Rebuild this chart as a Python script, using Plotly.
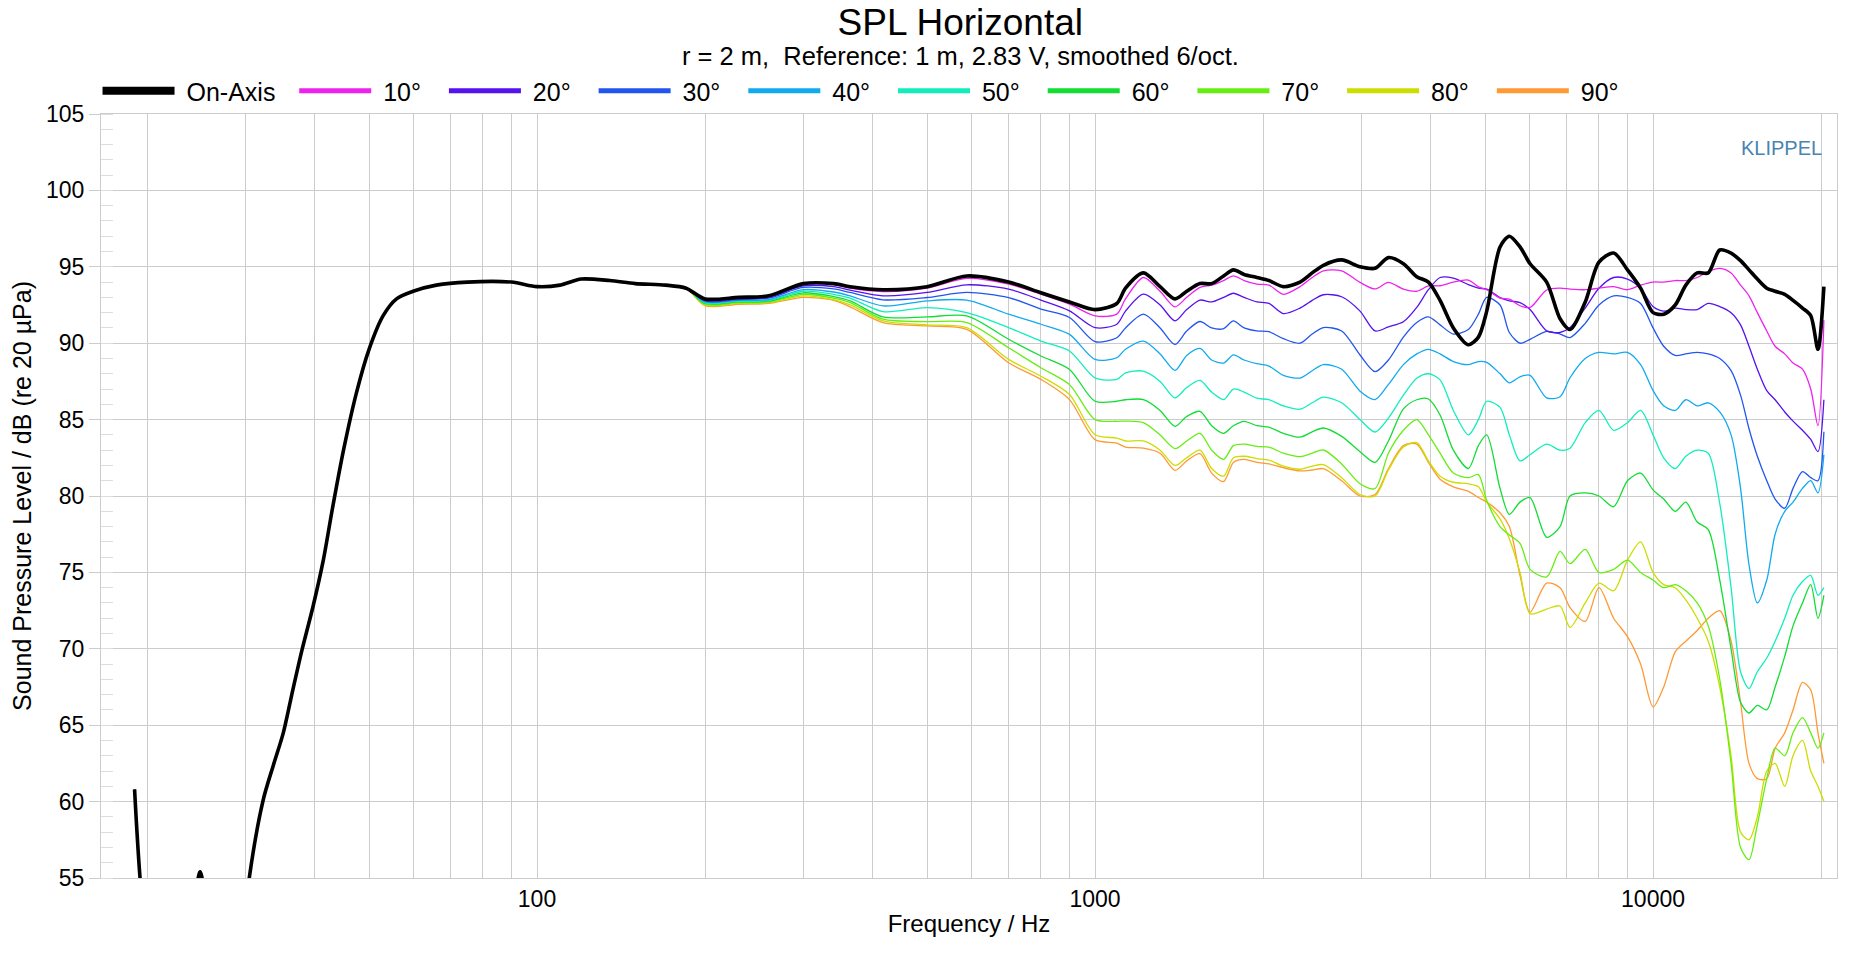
import plotly.graph_objects as go

# ---------------- data ----------------
SERIES = ["On-Axis", "10°", "20°", "30°", "40°", "50°", "60°", "70°", "80°", "90°"]
COLORS = ["#000000", "#ee22ee", "#5511ee", "#2255ee", "#11aaee", "#11eebb",
          "#11dd33", "#66ee11", "#ccdd00", "#ff9933"]

# below ~190 Hz all angles coincide
F_LOW = [19.0, 19.6, 20.5, 23.0, 24.4, 24.9, 25.4, 27.0, 29.5, 30.5, 32.3, 33.7,
         35.1, 36.5, 37.9, 39.7, 41.4, 43.0, 45.0, 47.5, 50.0, 53.0, 56.0, 60.0,
         66.0, 75.0, 90.0, 100.0, 110.0, 120.0, 135.0, 150.0, 170.0, 185.0]
SPL_LOW = [60.8, 53.5, 49.0, 50.0, 54.0, 55.4, 54.0, 49.0, 50.0, 55.0, 60.1, 62.4,
           64.5, 67.3, 69.9, 72.8, 75.8, 79.2, 83.0, 86.8, 89.6, 91.8, 92.9, 93.4,
           93.8, 94.0, 94.0, 93.7, 93.8, 94.2, 94.1, 93.9, 93.8, 93.6]

F_HIGH = [200, 230, 260, 300, 340, 364, 417, 500, 589, 700,
          800, 900, 1000, 1094, 1134, 1221, 1308, 1391, 1460, 1542,
          1618, 1700, 1770, 1850, 1950, 2050, 2175, 2330, 2450, 2566,
          2767, 2985, 3176, 3356, 3570, 3772, 3958, 4153, 4387, 4668,
          4865, 5035, 5319, 5527, 5776, 6021, 6447, 6814, 7100, 7560,
          8000, 8500, 9000, 9500, 10000, 10450, 10960, 11450, 12000, 12560,
          13170, 13800, 14350, 14860, 15380, 15990, 16550, 17220, 17820, 18530,
          19170, 19750, 20240]

ON_AXIS = [92.9, 93.0, 93.1, 93.9, 93.9, 93.7, 93.5, 93.7, 94.4, 94.0,
           93.3, 92.7, 92.2, 92.6, 93.6, 94.6, 93.7, 92.9, 93.4, 93.9,
           93.9, 94.4, 94.8, 94.5, 94.3, 94.1, 93.7, 94.0, 94.6, 95.1,
           95.45, 95.0, 94.9, 95.6, 95.2, 94.35, 94.0, 92.8, 91.0, 89.9,
           90.4, 92.1, 96.3, 97.0, 96.3, 95.2, 94.0, 91.6, 90.9, 92.7,
           95.3, 95.9, 94.8, 93.6, 92.0, 91.9, 92.5, 93.8, 94.6, 94.6,
           96.1, 95.9, 95.4, 94.8, 94.2, 93.6, 93.4, 93.2, 92.8, 92.3,
           91.8, 89.6, 93.7]
DEG10 = [92.85, 92.95, 93.05, 93.85, 93.85, 93.6, 93.38, 93.6, 94.24, 93.87,
         93.21, 92.56, 91.79, 91.9, 92.9, 94.3, 93.4, 92.38, 93.0, 93.65,
         93.8, 94.1, 94.41, 94.1, 93.87, 93.8, 93.2, 93.7, 94.3, 94.74,
         94.74, 93.98, 93.55, 93.98, 93.54, 93.4, 93.75, 93.76, 94.0, 94.13,
         93.69, 93.5, 92.95, 92.88, 92.45, 92.34, 93.48, 93.6, 93.54, 93.5,
         93.6, 93.7, 93.5, 93.8, 94.0, 94.0, 94.1, 94.1, 94.3, 94.7,
         94.9, 94.6, 93.8, 93.1, 92.0, 90.8, 89.8, 89.3, 88.7, 88.3,
         87.0, 84.6, 91.5]
DEG20 = [92.8, 92.9, 93.0, 93.75, 93.7, 93.47, 93.1, 93.32, 93.82, 93.54,
         92.82, 92.12, 91.02, 91.24, 92.1, 93.21, 92.5, 91.46, 92.2, 92.82,
         92.7, 93.0, 93.27, 93.0, 92.7, 92.6, 91.94, 92.3, 92.8, 93.17,
         93.04, 92.1, 90.8, 91.07, 91.4, 92.34, 93.5, 94.3, 94.26, 93.83,
         93.6, 93.54, 92.99, 92.77, 92.66, 92.2, 90.81, 90.7, 91.02, 92.3,
         93.6, 94.3, 94.2, 93.6, 92.4, 92.1, 92.3, 92.2, 92.2, 92.6,
         92.4, 92.0, 91.2, 89.8, 88.3, 86.9, 86.3, 85.5, 84.9, 84.3,
         83.7, 82.9, 86.3]
DEG30 = [92.75, 92.85, 92.95, 93.65, 93.55, 93.32, 92.84, 92.99, 93.32, 92.99,
         92.23, 91.68, 90.1, 90.36, 91.0, 91.9, 91.0, 89.92, 90.8, 91.42,
         91.0, 90.95, 91.46, 91.0, 90.8, 90.75, 90.3, 90.0, 90.6, 91.02,
         90.8, 89.23, 88.14, 88.9, 90.4, 91.35, 91.72, 91.2, 90.6, 90.9,
         91.9, 93.0, 92.5, 90.7, 90.0, 90.25, 90.77, 90.6, 90.37, 91.3,
         92.5, 93.1, 93.0, 92.6, 91.0, 89.8, 89.2, 89.3, 89.4, 89.3,
         89.0, 88.2, 86.6, 84.4, 82.6, 81.0, 79.8, 79.2, 80.5, 81.6,
         81.2, 81.0, 84.2]
DEG40 = [92.7, 92.8, 92.85, 93.5, 93.35, 93.1, 92.44, 92.77, 92.82, 91.9,
         91.24, 90.58, 88.94, 89.05, 89.6, 90.14, 89.3, 88.22, 89.2, 89.66,
         88.9, 88.7, 89.23, 88.9, 88.66, 88.5, 87.9, 87.72, 88.2, 88.6,
         88.3, 86.86, 86.31, 87.3, 88.6, 89.3, 89.6, 89.3, 88.8, 88.6,
         88.8, 88.75, 88.0, 87.41, 87.8, 87.9, 86.42, 86.5, 87.74, 89.0,
         89.4, 89.3, 89.4, 88.6, 86.9, 85.9, 85.6, 86.3, 85.9, 86.1,
         85.5, 84.0, 80.5, 75.5, 73.0, 74.5, 77.5, 79.0, 79.6, 80.5,
         81.0, 80.2, 82.7]
DEG50 = [92.65, 92.75, 92.8, 93.4, 93.2, 92.95, 92.07, 92.33, 92.0, 91.02,
         90.14, 89.49, 87.73, 87.63, 88.06, 88.17, 87.5, 86.42, 87.1, 87.56,
         86.8, 86.31, 87.0, 86.8, 86.4, 86.3, 85.9, 85.68, 86.1, 86.47,
         86.1, 85.0, 84.19, 85.1, 86.6, 87.7, 88.0, 87.6, 85.6, 84.0,
         85.0, 86.2, 85.8, 84.0, 82.3, 82.7, 83.4, 83.0, 83.13, 84.8,
         85.6, 84.3, 84.8, 85.6, 84.0, 82.5, 81.8, 82.6, 83.0, 82.8,
         79.5, 74.0, 68.5, 67.4, 68.5, 69.4, 70.5, 72.0, 73.5, 74.4,
         74.8, 73.5, 74.0]
DEG60 = [92.6, 92.7, 92.75, 93.3, 93.05, 92.77, 91.72, 91.72, 91.79, 90.26,
         89.16, 88.28, 86.2, 86.2, 86.3, 86.31, 85.6, 84.56, 85.2, 85.54,
         84.6, 84.1, 84.6, 84.89, 84.6, 84.5, 84.1, 83.85, 84.2, 84.45,
         83.9, 82.9, 82.2, 83.6, 85.7, 86.3, 86.35, 85.3, 83.0, 81.8,
         83.3, 84.0, 80.5, 78.8, 79.6, 79.9, 77.3, 78.0, 80.0, 80.2,
         80.0, 79.3, 81.0, 81.5, 80.4, 79.8, 79.0, 79.6, 78.3, 77.8,
         74.5, 70.0, 66.5, 65.8, 66.3, 66.0, 67.5, 69.5, 71.5, 73.0,
         74.2, 72.0, 73.5]
DEG70 = [92.55, 92.65, 92.7, 93.2, 92.95, 92.66, 91.57, 91.41, 91.35, 89.7,
         88.39, 87.29, 85.0, 84.89, 84.9, 84.8, 84.0, 83.1, 83.6, 84.1,
         83.0, 82.4, 83.3, 83.4, 83.25, 83.2, 82.8, 82.58, 82.8, 83.01,
         82.1, 80.8, 80.49, 82.8, 84.3, 85.0, 84.0, 82.8, 81.5, 81.2,
         81.4, 79.7, 78.0, 77.45, 76.9, 75.2, 74.7, 76.37, 75.57, 76.5,
         75.0, 75.2, 75.8, 75.0, 74.5, 74.0, 74.2, 73.8, 73.0, 71.5,
         68.0, 62.5, 57.0, 56.2, 58.5, 61.5, 63.5, 63.0, 64.5, 65.5,
         64.5, 63.5, 64.5]
DEG80 = [92.5, 92.6, 92.65, 93.1, 92.85, 92.51, 91.46, 91.2, 91.02, 88.94,
         87.84, 86.64, 84.01, 83.79, 83.6, 83.6, 83.0, 82.0, 82.5, 83.0,
         81.8, 81.3, 82.5, 82.6, 82.45, 82.35, 81.95, 81.75, 81.95, 82.05,
         81.2, 80.1, 80.0, 81.7, 83.2, 83.5, 82.3, 81.3, 80.9, 80.8,
         80.6, 79.6, 78.5, 77.2, 75.0, 72.3, 72.6, 72.8, 71.4, 73.0,
         74.3, 73.8, 75.8, 77.0, 75.0, 74.2, 74.0, 73.2, 72.0, 70.5,
         67.5, 63.0, 58.0, 57.5, 59.0, 62.0, 62.5, 61.0, 63.0, 64.0,
         62.0, 61.0, 60.0]
DEG90 = [92.45, 92.55, 92.6, 93.0, 92.8, 92.38, 91.35, 91.13, 90.91, 88.72,
         87.63, 86.31, 83.69, 83.46, 83.2, 83.13, 82.8, 81.68, 82.3, 82.77,
         81.5, 80.95, 82.2, 82.4, 82.2, 82.1, 81.85, 81.64, 81.7, 81.79,
         81.0, 80.0, 80.1, 81.8, 83.3, 83.4, 82.2, 81.1, 80.6, 80.3,
         79.9, 79.6, 78.9, 78.0, 74.8, 72.4, 74.3, 74.0, 72.7, 71.8,
         74.0, 72.0, 70.8, 69.0, 66.2, 67.5, 69.8, 70.5, 71.2, 72.0,
         72.5, 70.5, 66.5, 62.5, 61.5, 61.5, 63.5, 64.5, 66.0, 67.8,
         67.3, 64.5, 62.5]

HIGH = [ON_AXIS, DEG10, DEG20, DEG30, DEG40, DEG50, DEG60, DEG70, DEG80, DEG90]

X_GRID = [20, 30, 40, 50, 60, 70, 80, 90, 100, 200, 300, 400, 500, 600, 700, 800, 900,
          1000, 2000, 3000, 4000, 5000, 6000, 7000, 8000, 9000, 10000, 20000]
X_LABELED = [100, 1000, 10000]

TITLE = "SPL Horizontal"
SUBTITLE = "r = 2 m,\u00a0 Reference: 1 m, 2.83 V, smoothed 6/oct."

# ---------------- figure ----------------
FONT = "Liberation Sans, Arial, sans-serif"
NB = "\u00a0"
fig = go.Figure()

freqs = F_LOW + F_HIGH
order = list(range(1, len(SERIES)))[::-1] + [0]   # angles first, on-axis on top
for i in order:
    fig.add_trace(go.Scatter(
        x=freqs, y=SPL_LOW + HIGH[i], mode="lines", name=SERIES[i],
        line=dict(color=COLORS[i], width=3.6 if i == 0 else 1.3, shape="spline", smoothing=0.8),
        showlegend=False, hoverinfo="skip"))

# legend keys (thicker than the plotted lines, as in the reference)
for i, name in enumerate(SERIES):
    fig.add_trace(go.Scatter(
        x=[None], y=[None], mode="lines", name=NB + name,
        line=dict(color=COLORS[i], width=8 if i == 0 else 5),
        legend="legend" if i == 0 else "legend2"))

ticktext = [str(v) if v in X_LABELED else "" for v in X_GRID]

fig.update_layout(
    width=1861, height=953,
    margin=dict(l=93, r=32, t=106, b=83),
    paper_bgcolor="white", plot_bgcolor="white",
    font=dict(family=FONT, color="black", size=23),
    title=dict(text=TITLE, x=0.495, xref="paper", xanchor="center", y=1 - 14 / 953,
               yanchor="middle", yref="container",
               font=dict(size=37, family=FONT, color="black")),
    showlegend=True,
    legend=dict(orientation="h", x=-0.002, y=1.030, xanchor="left", yanchor="middle",
                font=dict(size=25, family=FONT), itemwidth=72, bgcolor="rgba(0,0,0,0)",
                itemclick=False, itemdoubleclick=False),
    legend2=dict(orientation="h", x=0.1113, y=1.030, xanchor="left", yanchor="middle",
                 font=dict(size=25, family=FONT), itemwidth=72, entrywidth=62.7,
                 entrywidthmode="pixels", bgcolor="rgba(0,0,0,0)",
                 itemclick=False, itemdoubleclick=False),
    annotations=[
        dict(text=SUBTITLE, xref="paper", yref="paper", x=0.495, y=(870 - 48) / 764,
             xanchor="center", yanchor="middle", showarrow=False,
             font=dict(size=25.5, family=FONT, color="black")),
        dict(text="KLIPPEL", xref="paper", yref="paper", x=(1824 - 101) / 1736,
             y=(878 - 148) / 764, xanchor="right", yanchor="middle", showarrow=False,
             font=dict(size=20, family=FONT, color="#4a84b0")),
    ],
)

fig.update_xaxes(
    type="log", range=[1.2186, 4.3297],
    tickvals=X_GRID, ticktext=ticktext,
    showgrid=True, gridcolor="#cccccc", gridwidth=1,
    ticks="", showline=True, linecolor="#cccccc", linewidth=1, mirror=True,
    zeroline=False, tickfont=dict(size=23, family=FONT, color="black"),
    title=dict(text="Frequency / Hz", font=dict(size=24, family=FONT, color="black"), standoff=4),
)
fig.update_yaxes(
    range=[55, 105], tickvals=list(range(55, 106, 5)),
    showgrid=True, gridcolor="#cccccc", gridwidth=1,
    ticks="outside", ticklen=11, tickcolor="#cccccc",
    minor=dict(dtick=1, ticks="inside", ticklen=12, tickcolor="#dddddd", showgrid=False),
    showline=True, linecolor="#cccccc", linewidth=1, mirror=True,
    zeroline=False, tickfont=dict(size=23, family=FONT, color="black"),
    title=dict(text="Sound Pressure Level / dB (re 20 µPa)",
               font=dict(size=25, family=FONT, color="black"), standoff=7),
)

fig.write_html("out.html")
